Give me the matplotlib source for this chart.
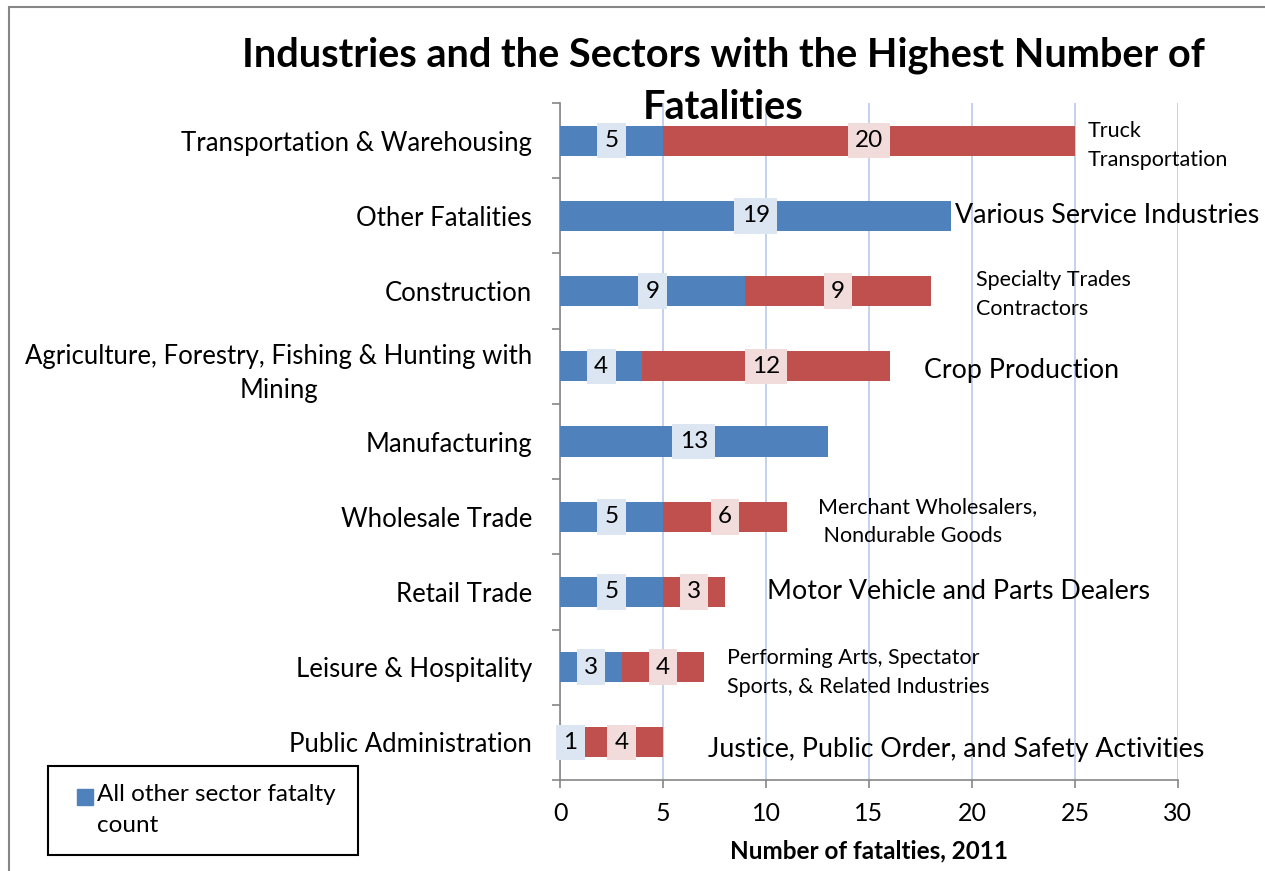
import matplotlib
matplotlib.use("Agg")
from matplotlib import pyplot as plt
from matplotlib.patches import Rectangle
import numpy as np

plt.rcParams['font.family'] = ['Lato', 'DejaVu Sans']

# data
categories = ['Transportation & Warehousing', 'Other Fatalities', 'Construction',
              'Agriculture, Forestry, Fishing & Hunting with\nMining', 'Manufacturing',
              'Wholesale Trade', 'Retail Trade', 'Leisure & Hospitality',
              'Public Administration']
other_sector = [5, 19, 9, 4, 13, 5, 5, 3, 1]
top_sector = [20, 0, 9, 12, 0, 6, 3, 4, 4]
sector_names = ['Truck\nTransportation', 'Various Service Industries',
                'Specialty Trades\nContractors', 'Crop Production', '',
                'Merchant Wholesalers,\n Nondurable Goods',
                'Motor Vehicle and Parts Dealers',
                'Performing Arts, Spectator\nSports, & Related Industries',
                'Justice, Public Order, and Safety Activities']
# where the sector name starts (data units) and its size
name_x = [25.63, 19.17, 20.2, 17.67, 0, 12.52, 10.05, 8.1, 7.18]
name_size = [15.5, 19.3, 15.5, 19.3, 15.5, 15.5, 19.3, 15.5, 19.3]
name_dy = [0.06, 0, 0.05, 0.05, 0, 0.07, 0, 0.07, 0.1]

blue = '#4F81BD'
red = '#C0504D'

fig = plt.figure(figsize=(12.65, 8.71), dpi=100)
ax = fig.add_axes([0.4427, 0.1045, 0.4885, 0.7772])

y = np.arange(len(categories))
ax.barh(y, other_sector, height=0.4, color=blue, zorder=3)
ax.barh(y, top_sector, left=other_sector, height=0.4, color=red, zorder=3)

# value labels
for i in range(len(categories)):
    ax.text(other_sector[i] / 2, y[i], str(other_sector[i]), ha='center', va='center',
            fontsize=17.5, zorder=4,
            bbox=dict(boxstyle='square,pad=0.3', fc='#DCE6F2', ec='none'))
    if top_sector[i] > 0:
        ax.text(other_sector[i] + top_sector[i] / 2, y[i], str(top_sector[i]),
                ha='center', va='center', fontsize=17.5, zorder=4,
                bbox=dict(boxstyle='square,pad=0.3', fc='#F2DCDB', ec='none'))
    if sector_names[i]:
        ax.text(name_x[i], y[i] + name_dy[i], sector_names[i], ha='left', va='center',
                fontsize=name_size[i], linespacing=1.55, clip_on=False)

ax.set_ylim(len(categories) - 0.5, -0.5)
ax.set_xlim(0, 30)
ax.set_xticks(np.arange(0, 31, 5))
ax.set_yticks(y)
ax.set_yticklabels(categories, fontsize=18.5, linespacing=1.45)
for lab in ax.get_yticklabels():
    lab.set_multialignment('center')
ax.set_yticks(np.arange(-0.5, len(categories), 1), minor=True)
ax.tick_params(axis='y', which='major', length=0, pad=20)
ax.tick_params(axis='y', which='minor', length=6, color='#868686', width=1.2)
ax.tick_params(axis='x', labelsize=18, length=6, color='#868686', width=1.2, pad=10)

ax.grid(axis='x', color='#B9C9E8', linewidth=1.2, zorder=0)
for s in ['top', 'right']:
    ax.spines[s].set_visible(False)
for s in ['left', 'bottom']:
    ax.spines[s].set_color('#868686')
    ax.spines[s].set_linewidth(1.2)

ax.set_xlabel('Number of fatalties, 2011', fontsize=17.5, fontweight='bold', labelpad=10)

fig.text(0.572, 0.907, 'Industries and the Sectors with the Highest Number of\nFatalities',
         ha='center', va='center', fontsize=28.5, fontweight='bold', linespacing=1.5)

# legend box (only the blue series is listed)
fig.patches.append(Rectangle((48 / 1265, 16 / 871), 310 / 1265, 89 / 871,
                             transform=fig.transFigure, fill=False, ec='black', lw=1.5))
fig.patches.append(Rectangle((77 / 1265, 1 - 805 / 871), 16 / 1265, 16 / 871,
                             transform=fig.transFigure, color=blue))
fig.text(97 / 1265, 1 - 784 / 871, 'All other sector fatalty\ncount', ha='left', va='top',
         fontsize=17.5, linespacing=1.6)

# outer chart border
fig.patches.append(Rectangle((0.007, -0.01), 1.1, 1.002, transform=fig.transFigure,
                             fill=False, ec='#868686', lw=1.5))

fig.savefig('out.png', dpi=100)
